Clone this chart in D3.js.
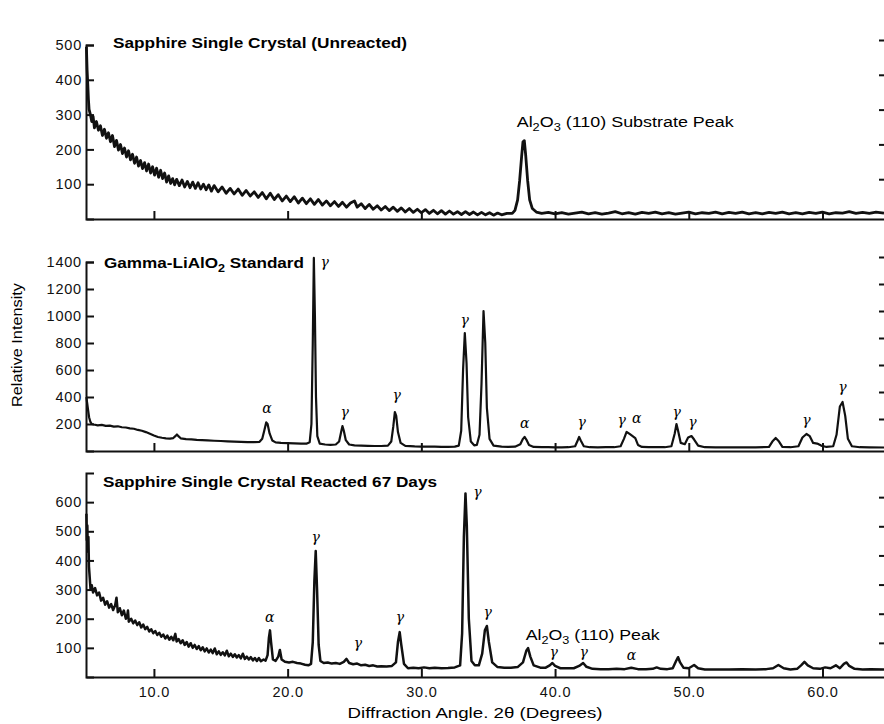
<!DOCTYPE html>
<html>
<head>
<meta charset="utf-8">
<title>XRD patterns</title>
<script src="https://cdnjs.cloudflare.com/ajax/libs/d3/7.8.5/d3.min.js"></script>
<style>
body { margin: 0; background: #fff; }
svg { display: block; font-family: "Liberation Sans", Arial, sans-serif; }
</style>
</head>
<body>
<div id="chart-area"></div>
<script>
/*
*    XRD patterns: sapphire unreacted, gamma-LiAlO2 standard, sapphire reacted 67 days
*/

// 2theta ticks (shared by the three panels)
var angleTicks = [10, 20, 30, 40, 50, 60];

// panel 1 - sapphire single crystal (unreacted)  [2theta, counts]
var unreacted = [
  [4.95,495],[5.0,430],[5.05,390],[5.1,345],[5.15,315],[5.25,300],[5.35,280],[5.45,295],[5.55,262],[5.7,280],
  [5.85,255],[6.0,268],[6.15,240],[6.3,258],[6.45,232],[6.6,248],[6.75,222],[6.9,240],[7.05,208],[7.2,226],
  [7.35,198],[7.5,214],[7.65,188],[7.8,204],[7.95,178],[8.1,196],[8.25,170],[8.4,186],[8.55,160],[8.7,178],
  [8.85,152],[9.0,168],[9.15,145],[9.3,162],[9.45,138],[9.6,158],[9.75,132],[9.9,150],[10.05,126],[10.2,146],
  [10.35,120],[10.5,140],[10.65,116],[10.8,132],[10.95,106],[11.1,124],[11.25,102],[11.4,116],[11.55,98],[11.7,114],
  [11.9,96],[12.1,112],[12.3,92],[12.5,108],[12.7,90],[12.9,106],[13.1,88],[13.3,104],[13.5,86],[13.7,100],
  [13.9,84],[14.1,98],[14.3,80],[14.5,96],[14.8,78],[15.1,92],[15.4,74],[15.7,88],[16.0,72],[16.3,86],
  [16.6,68],[16.9,82],[17.2,66],[17.5,78],[17.8,62],[18.1,76],[18.4,58],[18.7,74],[19.0,56],[19.3,70],
  [19.6,52],[19.9,66],[20.2,50],[20.5,64],[20.8,46],[21.1,60],[21.4,44],[21.7,58],[22.0,42],[22.3,56],
  [22.6,40],[22.9,52],[23.2,38],[23.5,50],[23.8,36],[24.1,48],[24.4,34],[24.7,46],[25.0,52],[25.2,34],
  [25.5,44],[25.8,30],[26.1,42],[26.4,28],[26.7,38],[27.0,26],[27.3,36],[27.6,24],[27.9,34],[28.2,22],
  [28.5,32],[28.8,20],[29.1,30],[29.4,19],[29.7,28],[30.0,18],[30.3,27],[30.6,16],[30.9,25],[31.2,15],
  [31.5,24],[31.8,14],[32.1,23],[32.4,14],[32.7,21],[33.0,13],[33.3,21],[33.6,13],[33.9,20],[34.2,12],
  [34.5,19],[34.8,12],[35.1,18],[35.4,11],[35.7,17],[36.0,12],[36.4,16],[36.8,16],[37.0,25],[37.2,55],
  [37.35,110],[37.5,180],[37.6,222],[37.7,225],[37.8,185],[37.95,110],[38.1,55],[38.3,30],[38.6,20],[39.0,16],
  [39.5,19],[40.0,15],[40.5,18],[41.0,14],[41.5,17],[42.0,20],[42.5,15],[43.0,18],[43.5,14],[44.0,17],
  [44.5,21],[45.0,15],[45.5,18],[46.0,14],[46.5,19],[47.0,16],[47.5,20],[48.0,15],[48.5,18],[49.0,14],
  [49.5,17],[50.0,20],[50.5,15],[51.0,18],[51.5,16],[52.0,20],[52.5,15],[53.0,19],[53.5,16],[54.0,20],
  [54.5,15],[55.0,18],[55.5,15],[56.0,19],[56.5,16],[57.0,20],[57.5,15],[58.0,18],[58.5,15],[59.0,19],
  [59.5,16],[60.0,20],[60.5,15],[61.0,18],[61.5,17],[62.0,21],[62.5,16],[63.0,19],[63.5,16],[64.0,20],[64.6,17]
];
var unreactedTicks = [100, 200, 300, 400, 500];

// panel 2 - gamma-LiAlO2 standard
var standard = [
  [4.95,400],[5.0,360],[5.08,300],[5.15,250],[5.25,215],[5.35,200],[5.5,196],[5.8,190],[6.1,193],[6.4,186],
  [6.7,188],[7.0,181],[7.3,183],[7.6,176],[7.9,174],[8.2,168],[8.5,165],[8.8,156],[9.1,150],[9.4,140],
  [9.7,128],[10.0,115],[10.3,104],[10.6,98],[10.9,94],[11.2,92],[11.45,96],[11.6,110],[11.72,122],[11.85,108],
  [12.0,94],[12.4,88],[12.8,86],[13.2,82],[13.6,80],[14.0,78],[14.5,76],[15.0,74],[15.5,72],[16.0,70],
  [16.5,68],[17.0,66],[17.5,66],[17.9,68],[18.1,90],[18.25,150],[18.4,212],[18.5,200],[18.65,130],[18.85,78],
  [19.1,64],[19.5,60],[20.0,58],[20.5,56],[21.0,54],[21.4,54],[21.65,65],[21.78,200],[21.88,800],[21.96,1430],
  [22.04,1000],[22.12,400],[22.22,110],[22.4,55],[22.8,48],[23.2,46],[23.6,48],[23.85,70],[24.0,140],[24.1,185],
  [24.2,150],[24.35,80],[24.6,48],[25.0,42],[25.5,40],[26.0,38],[26.5,37],[27.0,37],[27.5,40],[27.75,70],
  [27.9,180],[28.02,289],[28.12,260],[28.25,140],[28.45,60],[28.8,38],[29.5,34],[30.0,33],[30.5,32],[31.0,32],
  [31.5,30],[32.0,30],[32.5,32],[32.8,40],[32.98,150],[33.12,600],[33.25,874],[33.38,650],[33.5,250],[33.7,70],
  [33.95,42],[34.15,45],[34.35,120],[34.5,500],[34.65,1037],[34.78,800],[34.9,320],[35.1,90],[35.4,40],[36.0,32],
  [36.5,30],[37.0,32],[37.4,50],[37.6,90],[37.72,104],[37.85,85],[38.05,45],[38.4,30],[39.0,28],[39.5,28],
  [40.0,27],[40.5,27],[41.0,28],[41.5,35],[41.7,80],[41.8,104],[41.92,78],[42.15,35],[42.6,28],[43.2,27],
  [43.8,28],[44.4,28],[44.9,35],[45.15,90],[45.35,141],[45.6,125],[45.8,110],[46.0,95],[46.2,45],[46.5,30],
  [47.0,28],[47.6,28],[48.2,28],[48.7,35],[48.95,130],[49.08,200],[49.2,150],[49.4,60],[49.7,50],[49.95,100],
  [50.2,111],[50.4,85],[50.7,40],[51.2,28],[52.0,27],[53.0,27],[54.0,27],[55.0,27],[56.0,30],[56.25,70],
  [56.5,96],[56.75,70],[57.0,30],[57.6,28],[58.2,35],[58.5,100],[58.8,126],[59.05,110],[59.3,60],[59.6,55],
  [59.9,40],[60.3,30],[60.8,35],[61.05,120],[61.3,330],[61.5,363],[61.7,260],[61.9,90],[62.2,35],[62.8,28],
  [63.5,27],[64.6,26]
];
var standardTicks = [200, 400, 600, 800, 1000, 1200, 1400];
var standardPeaks = [
  [22.78,1400,"γ"],[18.45,318,"α"],[24.27,289,"γ"],[28.16,415,"γ"],[33.24,970,"γ"],[37.73,207,"α"],
  [41.99,215,"γ"],[44.98,230,"γ"],[46.1,244,"α"],[49.09,289,"γ"],[50.28,215,"γ"],[58.8,230,"γ"],[61.5,474,"γ"]
];

// panel 3 - sapphire single crystal reacted 67 days
var reacted = [
  [4.95,560],[4.98,470],[5.02,520],[5.06,430],[5.1,480],[5.14,380],[5.2,340],[5.26,300],[5.35,315],[5.45,290],
  [5.6,305],[5.75,280],[5.9,290],[6.05,262],[6.2,272],[6.35,248],[6.5,260],[6.65,238],[6.8,250],[6.95,230],
  [7.1,246],[7.2,272],[7.3,222],[7.45,236],[7.6,212],[7.75,228],[7.9,200],[8.0,210],[8.06,228],[8.12,190],
  [8.3,200],[8.45,184],[8.6,194],[8.75,178],[8.9,188],[9.05,170],[9.2,180],[9.35,164],[9.5,172],[9.65,156],
  [9.8,164],[9.95,150],[10.1,158],[10.25,144],[10.4,152],[10.55,138],[10.7,146],[10.85,132],[11.0,142],[11.15,128],
  [11.3,138],[11.45,126],[11.6,148],[11.7,122],[11.85,130],[12.0,116],[12.15,126],[12.3,110],[12.45,120],[12.6,104],
  [12.75,116],[12.9,100],[13.05,110],[13.2,96],[13.35,106],[13.5,92],[13.65,102],[13.8,88],[13.95,98],[14.1,84],
  [14.25,94],[14.4,82],[14.55,98],[14.7,78],[14.85,88],[15.0,76],[15.15,85],[15.3,74],[15.45,90],[15.6,71],
  [15.75,80],[15.9,69],[16.05,78],[16.2,67],[16.35,75],[16.5,64],[16.65,80],[16.8,62],[16.95,70],[17.1,60],
  [17.25,68],[17.4,57],[17.55,65],[17.7,55],[17.85,65],[18.0,54],[18.2,60],[18.35,56],[18.5,75],[18.6,135],
  [18.68,160],[18.76,120],[18.9,60],[19.1,55],[19.3,70],[19.42,93],[19.55,60],[19.8,52],[20.1,50],[20.4,52],
  [20.7,48],[21.0,46],[21.3,42],[21.55,40],[21.75,45],[21.88,120],[22.0,330],[22.1,432],[22.2,300],[22.32,110],
  [22.45,55],[22.7,48],[23.0,50],[23.3,46],[23.6,48],[23.9,45],[24.2,52],[24.4,62],[24.6,48],[24.9,44],
  [25.2,46],[25.5,40],[25.8,42],[26.1,38],[26.4,40],[26.7,36],[27.0,37],[27.4,36],[27.8,38],[28.1,50],
  [28.25,120],[28.38,154],[28.5,110],[28.7,45],[29.0,30],[29.4,32],[29.8,30],[30.2,33],[30.6,30],[31.0,32],
  [31.5,30],[32.0,31],[32.5,33],[32.9,40],[33.05,150],[33.18,480],[33.3,630],[33.4,520],[33.55,200],[33.75,55],
  [34.0,40],[34.3,40],[34.55,80],[34.75,160],[34.9,175],[35.05,120],[35.3,50],[35.7,34],[36.2,32],[36.7,32],
  [37.2,34],[37.6,50],[37.85,90],[37.98,99],[38.15,70],[38.4,40],[38.9,32],[39.3,32],[39.6,40],[39.8,48],
  [40.0,38],[40.4,30],[40.9,30],[41.4,30],[41.8,38],[42.1,48],[42.35,35],[42.8,28],[43.4,27],[44.0,27],
  [44.6,28],[45.2,27],[45.7,32],[46.2,27],[46.8,27],[47.3,28],[47.6,33],[47.9,28],[48.4,27],[48.8,30],
  [49.05,55],[49.2,68],[49.35,50],[49.6,32],[50.0,30],[50.4,41],[50.7,30],[51.2,26],[52.0,26],[53.0,26],
  [54.0,27],[55.0,26],[55.8,27],[56.3,30],[56.7,41],[57.1,30],[57.6,26],[58.1,28],[58.4,40],[58.65,52],
  [58.9,40],[59.3,30],[59.8,28],[60.2,33],[60.6,30],[61.0,40],[61.3,30],[61.6,45],[61.8,50],[62.0,38],
  [62.4,28],[63.0,26],[63.6,27],[64.6,26]
];
var reactedTicks = [100, 200, 300, 400, 500, 600];
var reactedPeaks = [
  [18.67,206,"α"],[22.1,480,"γ"],[25.25,117,"γ"],[28.39,206,"γ"],[34.2,634,"γ"],[34.96,223,"γ"],
  [39.9,86,"γ"],[42.14,86,"γ"],[45.72,75,"α"]
];

var panels = [
  { data: unreacted, ticks: unreactedTicks, max: 500, top: 45, bottom: 219, peaks: [], width: 2.8,
    title: ["Sapphire Single Crystal (Unreacted)"], titleX: 113, titleY: 48, titleW: 294, showX: false,
    note: [37.13, 279, "Substrate Peak", 217] },
  { data: standard, ticks: standardTicks, max: 1400, top: 262, bottom: 451, peaks: standardPeaks, width: 2.2,
    title: ["Gamma-LiAlO", "2", " Standard"], titleX: 104, titleY: 268, titleW: 200, showX: false },
  { data: reacted, ticks: reactedTicks, max: 700, top: 473, bottom: 677, peaks: reactedPeaks, width: 2.5,
    title: ["Sapphire Single Crystal Reacted 67 Days"], titleX: 103, titleY: 487, titleW: 334, showX: true,
    note: [37.8, 144, "Peak", 134] }
];

var svg = d3.select("#chart-area").append("svg")
  .attr("width", 884)
  .attr("height", 724);

var x = d3.scaleLinear().domain([4.92, 64.6]).range([86, 884]);

var line = d3.line()
  .x((d) => x(d[0]));

panels.forEach((p) => {
  var y = d3.scaleLinear().domain([0, p.max]).range([p.bottom, p.top]);
  var g = svg.append("g");

  // x axis, ticks pointing up into the plot
  var xAxis = d3.axisBottom(x)
    .tickValues(angleTicks)
    .tickSizeInner(-8)
    .tickSizeOuter(0)
    .tickPadding(10)
    .tickFormat(p.showX ? d3.format(".1f") : "");
  g.append("g")
    .attr("transform", "translate(0," + p.bottom + ")")
    .call(xAxis);

  // left y axis, ticks pointing right
  var yAxis = d3.axisLeft(y)
    .tickValues(p.ticks)
    .tickSizeInner(-8)
    .tickSizeOuter(-8)
    .tickPadding(4)
    .tickFormat(d3.format("d"));
  g.append("g")
    .attr("transform", "translate(86,0)")
    .call(yAxis);

  // cut-off tick dashes on the right edge
  var rAxis = g.append("g")
    .attr("transform", "translate(884,-5)")
    .call(d3.axisLeft(y).tickValues(p.ticks).tickSize(5).tickFormat(""));
  rAxis.select(".domain").remove();

  // trace
  g.append("path")
    .datum(p.data)
    .attr("fill", "none")
    .attr("stroke", "#111")
    .attr("stroke-width", p.width)
    .attr("stroke-linejoin", "round")
    .attr("d", line.y((d) => y(d[1])));

  // title
  var t = g.append("text")
    .attr("x", p.titleX)
    .attr("y", p.titleY)
    .attr("font-size", 15)
    .attr("font-weight", "bold")
    .attr("textLength", p.titleW)
    .attr("lengthAdjust", "spacingAndGlyphs");
  t.append("tspan").text(p.title[0]);
  if (p.title.length > 1) {
    t.append("tspan").attr("dy", 4).attr("font-size", 11).text(p.title[1]);
    t.append("tspan").attr("dy", -4).text(p.title[2]);
  }

  // Al2O3 (110) annotation
  if (p.note) {
    var n = g.append("text")
      .attr("x", x(p.note[0]))
      .attr("y", y(p.note[1]))
      .attr("dy", "0.35em")
      .attr("font-size", 14)
      .attr("textLength", p.note[3])
      .attr("lengthAdjust", "spacingAndGlyphs");
    n.append("tspan").text("Al");
    n.append("tspan").attr("dy", 4).attr("font-size", 10).text("2");
    n.append("tspan").attr("dy", -4).text("O");
    n.append("tspan").attr("dy", 4).attr("font-size", 10).text("3");
    n.append("tspan").attr("dy", -4).text(" (110) " + p.note[2]);
  }

  // phase labels
  g.selectAll(".peak")
    .data(p.peaks)
    .enter()
    .append("text")
      .attr("class", "peak")
      .attr("x", (d) => x(d[0]))
      .attr("y", (d) => y(d[1]))
      .attr("dy", "0.35em")
      .attr("text-anchor", "middle")
      .attr("font-size", 14)
      .attr("font-style", "italic")
      .attr("font-family", "DejaVu Serif, serif")
      .text((d) => d[2]);
});

// axis styling
svg.selectAll(".domain, .tick line")
  .attr("stroke", "#111")
  .attr("stroke-width", 2);
svg.selectAll(".tick text")
  .attr("fill", "#111")
  .attr("font-size", 14.5)
  .attr("letter-spacing", 0.8);
svg.selectAll("g[font-family]").attr("font-family", null).attr("font-size", null);

// axis titles
svg.append("text")
  .attr("transform", "translate(22,345) rotate(-90)")
  .attr("text-anchor", "middle")
  .attr("font-size", 15)
  .attr("textLength", 124)
  .attr("lengthAdjust", "spacingAndGlyphs")
  .text("Relative Intensity");

svg.append("text")
  .attr("x", 475)
  .attr("y", 718)
  .attr("text-anchor", "middle")
  .attr("font-size", 15)
  .attr("textLength", 255)
  .attr("lengthAdjust", "spacingAndGlyphs")
  .text("Diffraction Angle. 2θ (Degrees)");
</script>
</body>
</html>
